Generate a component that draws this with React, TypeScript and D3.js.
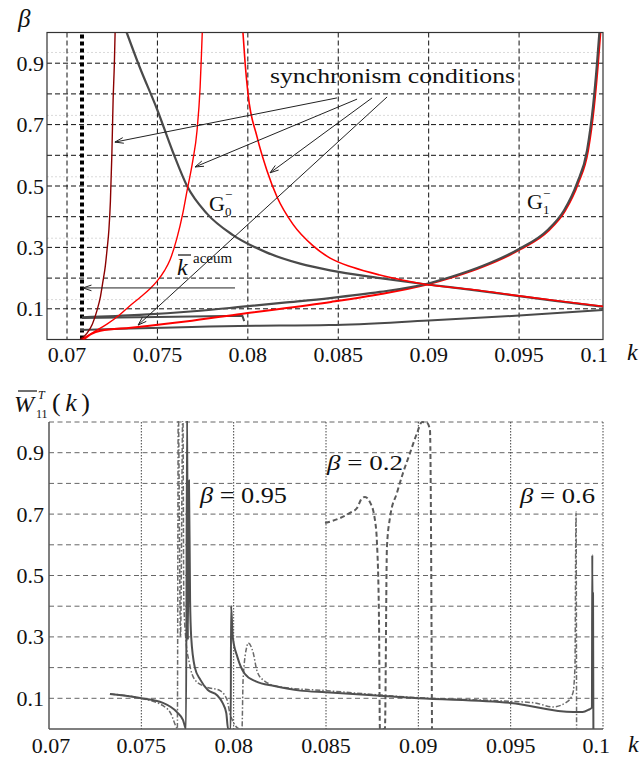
import React from 'react';
import * as d3 from 'd3';

type Pt = [number, number];

// ---- shared axis values ----
const kTicks = [0.07, 0.075, 0.08, 0.085, 0.09, 0.095, 0.1];
const kTickLabels = ['0.07', '0.075', '0.08', '0.085', '0.09', '0.095', '0.1'];
const gridLevels = [0.1, 0.2, 0.3, 0.4, 0.5, 0.6, 0.7, 0.8, 0.9];
const valueTicks = [0.1, 0.3, 0.5, 0.7, 0.9];
const valueTickLabels = ['0.1', '0.3', '0.5', '0.7', '0.9'];
const faintLevels = [0.935, 0.73, 0.53, 0.33, 0.13];

// ---- upper panel: beta(k) ----
const syncDarkRed: Pt[] = [
  [0.07072, 0], [0.0711, 0.02], [0.0714, 0.05], [0.07166, 0.095], [0.07185, 0.14],
  [0.07199, 0.19], [0.07212, 0.24], [0.07221, 0.29], [0.07232, 0.36], [0.0724, 0.45],
  [0.07248, 0.6], [0.07255, 0.78], [0.07262, 0.9], [0.07266, 1.0],
];
const syncRedRise: Pt[] = [
  [0.0708, 0], [0.0715, 0.025], [0.07221, 0.05], [0.0729, 0.08], [0.07348, 0.11],
  [0.0741, 0.14], [0.07459, 0.165], [0.07498, 0.19], [0.0754, 0.225], [0.0757, 0.26],
  [0.07608, 0.33], [0.0764, 0.41], [0.07664, 0.485], [0.07695, 0.58], [0.07719, 0.68],
  [0.07736, 0.82], [0.07743, 0.92], [0.07748, 1.0],
];
const syncRedFall: Pt[] = [
  [0.07973, 1.0], [0.07985, 0.9], [0.08001, 0.8], [0.08051, 0.66], [0.08106, 0.55],
  [0.08161, 0.465], [0.0825, 0.375], [0.08361, 0.305], [0.08455, 0.265], [0.0858, 0.235],
  [0.0873, 0.21], [0.0886, 0.193], [0.0898, 0.18], [0.0925, 0.162], [0.0949, 0.143],
  [0.097, 0.127], [0.09965, 0.108],
];
const g0Curve: Pt[] = [
  [0.0733, 1.0], [0.074, 0.89], [0.07498, 0.75], [0.07586, 0.61], [0.07664, 0.5],
  [0.07774, 0.41], [0.07918, 0.34], [0.08106, 0.283], [0.08289, 0.247], [0.08455, 0.225],
  [0.08731, 0.2], [0.0898, 0.18], [0.0925, 0.161], [0.0949, 0.142], [0.097, 0.126],
  [0.09965, 0.107],
];
const g1Curve: Pt[] = [
  [0.07083, 0.072], [0.074, 0.08], [0.077, 0.092], [0.07957, 0.106], [0.082, 0.12],
  [0.08455, 0.135], [0.0873, 0.155], [0.0898, 0.18], [0.0913, 0.205], [0.093, 0.24],
  [0.095, 0.295], [0.09655, 0.355], [0.09748, 0.42], [0.09821, 0.51], [0.09876, 0.617],
  [0.09909, 0.76], [0.09931, 0.9], [0.09944, 1.0],
];
const g1RedCurve: Pt[] = [
  [0.07083, 0], [0.0713, 0.02], [0.0718, 0.03], [0.07348, 0.04], [0.0765, 0.06],
  [0.07957, 0.085], [0.08455, 0.124], [0.0873, 0.15], [0.0898, 0.18], [0.0913, 0.205],
  [0.093, 0.24], [0.095, 0.295], [0.09655, 0.355], [0.09748, 0.42], [0.09821, 0.51],
  [0.09876, 0.617], [0.09909, 0.76], [0.09931, 0.9], [0.09944, 1.0],
];
const lowerBranch: Pt[] = [
  [0.07072, 0.031], [0.0795, 0.044], [0.0845, 0.047], [0.09, 0.062], [0.095, 0.078],
  [0.09965, 0.096],
];
const flatBranch: Pt[] = [
  [0.07083, 0.07], [0.076, 0.074], [0.0797, 0.077], [0.0798, 0.06],
];
const kAccum = 0.07083;

const syncArrows: [Pt, Pt][] = [
  [[0.08493, 0.787], [0.07265, 0.643]],
  [[0.08604, 0.783], [0.07708, 0.562]],
  [[0.08687, 0.787], [0.08123, 0.543]],
  [[0.0877, 0.79], [0.07393, 0.047]],
];
const accumArrow: [Pt, Pt] = [[0.07929, 0.168], [0.07088, 0.168]];

// ---- lower panel: W11(k) ----
const wBeta095: Pt[] = [
  [0.0733, 0.114], [0.07493, 0.101], [0.07617, 0.085], [0.07693, 0.055], [0.07726, 0.029],
  [0.07742, 0], [0.07748, 1.05], [0.07752, 0.29], [0.07758, 0.81], [0.07764, 0.42],
  [0.0777, 0.3], [0.0779, 0.2], [0.0782, 0.16], [0.0786, 0.127], [0.0791, 0.11],
  [0.0794, 0.085], [0.0796, 0.052], [0.0797, 0], [0.07984, 0], [0.07986, 0.4],
  [0.07995, 0.3], [0.0802, 0.235], [0.0806, 0.18], [0.0812, 0.155], [0.0822, 0.14],
  [0.0836, 0.125], [0.085, 0.12], [0.09, 0.1], [0.095, 0.085], [0.0984, 0.055],
  [0.0989, 0.055], [0.0992, 0.062], [0.0994, 0.07], [0.09942, 0.567], [0.09944, 0.2],
  [0.09946, 0.443], [0.09948, 0],
];
const wBeta06: Pt[] = [
  [0.0733, 0.114], [0.0749, 0.101], [0.0762, 0.075], [0.0766, 0.05], [0.0769, 0.005],
  [0.07695, 0], [0.077, 1.05], [0.07712, 0.3], [0.07725, 1.05], [0.0773, 0.42],
  [0.0774, 0.3], [0.0776, 0.215], [0.0779, 0.16], [0.0785, 0.137], [0.0792, 0.127],
  [0.07964, 0.095], [0.0798, 0.05], [0.08034, 0], [0.08045, 0], [0.08051, 0.16],
  [0.08072, 0.27], [0.08078, 0.28], [0.08105, 0.25], [0.08126, 0.19], [0.08159, 0.16],
  [0.08251, 0.137], [0.085, 0.125], [0.09, 0.102], [0.095, 0.09], [0.0963, 0.085],
  [0.09729, 0.072], [0.09805, 0.088], [0.09837, 0.117], [0.09848, 0.2], [0.09854, 0.707],
  [0.09857, 0],
];
const wBeta02: Pt[] = [
  [0.08495, 0.671], [0.08576, 0.687], [0.0863, 0.704], [0.08668, 0.72], [0.08695, 0.752],
  [0.08711, 0.756], [0.08738, 0.739], [0.08765, 0.681], [0.08776, 0.606], [0.08787, 0.355],
  [0.08792, 0], [0.08819, 0], [0.0883, 0.593], [0.08847, 0.69], [0.08884, 0.769],
  [0.08917, 0.834], [0.08955, 0.899], [0.08993, 0.964], [0.0902, 1.0], [0.09047, 0.997],
  [0.09063, 0.974], [0.09074, 0],
];

const FONT = "'Liberation Serif', 'Times New Roman', Times, serif";

// upper panel frame
const T = { left: 47, right: 603, top: 32.5, bottom: 339.5 };
const xT = d3.scaleLinear().domain([0.07, 0.1]).range([67, 609.5]);
const yT = d3.scaleLinear().domain([0, 1]).range([T.bottom, T.top]);
// lower panel frame
const B = { left: 49, right: 603, top: 422, bottom: 729 };
const xB = d3.scaleLinear().domain([0.07, 0.1]).range([B.left, B.right]);
const yB = d3.scaleLinear().domain([0, 1]).range([B.bottom, B.top]);

const lineT = d3.line<Pt>().x(d => xT(d[0])).y(d => yT(d[1])).curve(d3.curveMonotoneX);
const lineTStraight = d3.line<Pt>().x(d => xT(d[0])).y(d => yT(d[1]));
const lineB = d3.line<Pt>().x(d => xB(d[0])).y(d => yB(d[1])).curve(d3.curveMonotoneX);

function arrowPath(a: Pt, b: Pt): string {
  const x1 = xT(a[0]), y1 = yT(a[1]), x2 = xT(b[0]), y2 = yT(b[1]);
  const ang = Math.atan2(y2 - y1, x2 - x1);
  const L = 9, spread = 0.32;
  const h1x = x2 - L * Math.cos(ang - spread), h1y = y2 - L * Math.sin(ang - spread);
  const h2x = x2 - L * Math.cos(ang + spread), h2y = y2 - L * Math.sin(ang + spread);
  return `M${x1},${y1}L${x2},${y2}M${h1x},${h1y}L${x2},${y2}L${h2x},${h2y}`;
}

export default function App() {
  const lastIdx = kTicks.length - 1;
  return (
    <svg
      width={643}
      height={760}
      viewBox="0 0 643 760"
      style={{ position: 'absolute', left: 0, top: 0, background: '#fff', fontFamily: FONT }}
    >
      <defs>
        <clipPath id="clipTop">
          <rect x={T.left} y={T.top} width={T.right - T.left} height={T.bottom - T.top} />
        </clipPath>
        <clipPath id="clipBottom">
          <rect x={B.left} y={B.top - 1} width={B.right - B.left} height={B.bottom - B.top + 1} />
        </clipPath>
      </defs>
      <rect x={0} y={0} width={643} height={760} fill="#fff" />

      {/* ===== upper panel ===== */}
      <g>
        {faintLevels.map(v => (
          <line key={'f' + v} x1={T.left} x2={T.right} y1={yT(v)} y2={yT(v)}
            stroke="#dadada" strokeWidth={1} strokeDasharray="2,2" />
        ))}
        {gridLevels.map(v => (
          <line key={'h' + v} x1={T.left} x2={T.right} y1={yT(v)} y2={yT(v)}
            stroke="#111" strokeWidth={1} strokeDasharray="5,3" />
        ))}
        {kTicks.slice(0, lastIdx).map(k => (
          <line key={'v' + k} x1={xT(k)} x2={xT(k)} y1={T.top} y2={T.bottom}
            stroke="#111" strokeWidth={1} strokeDasharray="5,3" />
        ))}
        <rect x={T.left} y={T.top} width={T.right - T.left} height={T.bottom - T.top}
          fill="none" stroke="#333" strokeWidth={1.2} />

        <g clipPath="url(#clipTop)" fill="none" strokeLinejoin="round">
          <line x1={xT(kAccum)} x2={xT(kAccum)} y1={T.bottom} y2={T.top}
            stroke="#000" strokeWidth={4} strokeDasharray="4,3" />
          <path d={lineT(lowerBranch) || ''} stroke="#4a4a4a" strokeWidth={2} />
          <path d={lineTStraight(flatBranch) || ''} stroke="#4a4a4a" strokeWidth={2} />
          <path d={lineT(g0Curve) || ''} stroke="#4a4a4a" strokeWidth={2.2} />
          <path d={lineT(g1RedCurve) || ''} stroke="#ff0000" strokeWidth={2}
            transform="translate(1,0.5)" />
          <path d={lineT(g1Curve) || ''} stroke="#4a4a4a" strokeWidth={2.2} />
          <path d={lineT(syncRedFall) || ''} stroke="#ff0000" strokeWidth={1.6} />
          <path d={lineT(syncRedRise) || ''} stroke="#ff0000" strokeWidth={1.4} />
          <path d={lineT(syncDarkRed) || ''} stroke="#8b0000" strokeWidth={1.4} />
        </g>

        {syncArrows.map((a, i) => (
          <path key={'a' + i} d={arrowPath(a[0], a[1])} fill="none" stroke="#222" strokeWidth={1} />
        ))}
        <path d={arrowPath(accumArrow[0], accumArrow[1])} fill="none" stroke="#222" strokeWidth={1} />

        <text x={270} y={83} fontSize={22} textLength={245} lengthAdjust="spacingAndGlyphs" fill="#111">
          synchronism conditions
        </text>
        {/* G0- */}
        <text x={209} y={211} fontSize={22} fill="#111">G</text>
        <text x={225} y={216} fontSize={13} fill="#111">0</text>
        <text x={225} y={199} fontSize={13} fill="#111">−</text>
        {/* G1- */}
        <text x={527} y={209} fontSize={22} fill="#111">G</text>
        <text x={543} y={214} fontSize={13} fill="#111">1</text>
        <text x={543} y={198} fontSize={13} fill="#111">−</text>
        {/* k accum */}
        <text x={177} y={275} fontSize={24} fontStyle="italic" fill="#111">k</text>
        <line x1={178} x2={191} y1={255} y2={255} stroke="#111" strokeWidth={1.2} />
        <text x={193} y={263} fontSize={15} fill="#111">aceum</text>

        {/* axes labels */}
        {valueTicks.map((v, i) => (
          <text key={'yl' + v} x={44} y={yT(v) + 7.5} fontSize={22} textAnchor="end" fill="#111">
            {valueTickLabels[i]}
          </text>
        ))}
        {kTicks.map((k, i) => (
          <text key={'xl' + k} x={i === lastIdx ? T.right + 5 : xT(k)} y={362} fontSize={22}
            textAnchor={i === lastIdx ? 'end' : 'middle'} fill="#111">
            {kTickLabels[i]}
          </text>
        ))}
        <text x={18} y={27} fontSize={25} fontStyle="italic" fill="#111">β</text>
        <text x={627} y={360} fontSize={24} fontStyle="italic" fill="#111">k</text>
      </g>

      {/* ===== lower panel ===== */}
      <g>
        {gridLevels.map(v => (
          <line key={'bh' + v} x1={B.left} x2={B.right} y1={yB(v)} y2={yB(v)}
            stroke="#666" strokeWidth={1} strokeDasharray="5,3.5" />
        ))}
        <line x1={B.left} x2={B.right} y1={B.top} y2={B.top}
          stroke="#666" strokeWidth={1} strokeDasharray="5,3.5" />
        {kTicks.slice(1).map(k => (
          <line key={'bv' + k} x1={xB(k)} x2={xB(k)} y1={B.top} y2={B.bottom}
            stroke="#444" strokeWidth={1} strokeDasharray="1.5,1.5" />
        ))}
        <line x1={B.left} x2={B.left} y1={B.top} y2={B.bottom} stroke="#555" strokeWidth={1.5} />
        <line x1={B.left} x2={B.right} y1={B.bottom} y2={B.bottom} stroke="#555" strokeWidth={1.5} />

        <g clipPath="url(#clipBottom)" fill="none" strokeLinejoin="round">
          <path d={lineB(wBeta02) || ''} stroke="#5a5a5a" strokeWidth={2} strokeDasharray="5,3" />
          <path d={lineB(wBeta06) || ''} stroke="#6a6a6a" strokeWidth={1.5}
            strokeDasharray="5,2,1.5,2" />
          <path d={lineB(wBeta095) || ''} stroke="#505050" strokeWidth={2} />
        </g>

        <text x={200} y={503} fontSize={24} textLength={87} lengthAdjust="spacingAndGlyphs" fill="#111">
          <tspan fontStyle="italic">β</tspan> = 0.95
        </text>
        <text x={327} y={470} fontSize={22} textLength={76} lengthAdjust="spacingAndGlyphs" fill="#111">
          <tspan fontStyle="italic">β</tspan> = 0.2
        </text>
        <text x={520} y={503} fontSize={22} textLength={75} lengthAdjust="spacingAndGlyphs" fill="#111">
          <tspan fontStyle="italic">β</tspan> = 0.6
        </text>

        {valueTicks.map((v, i) => (
          <text key={'byl' + v} x={44} y={yB(v) + 7.5} fontSize={22} textAnchor="end" fill="#111">
            {valueTickLabels[i]}
          </text>
        ))}
        {kTicks.map((k, i) => (
          <text key={'bxl' + k} x={i === lastIdx ? B.right + 7 : i === 0 ? xB(k) + 2 : xB(k)} y={753}
            fontSize={22} textAnchor={i === lastIdx ? 'end' : 'middle'} fill="#111">
            {kTickLabels[i]}
          </text>
        ))}
        <text x={628} y={752} fontSize={24} fontStyle="italic" fill="#111">k</text>

        {/* W11^T(k) title */}
        <text x={14} y={412} fontSize={24} fontStyle="italic" fill="#111">W</text>
        <line x1={18} x2={37} y1={391} y2={391} stroke="#111" strokeWidth={1.2} />
        <text x={38} y={399} fontSize={12} fontStyle="italic" fill="#111">T</text>
        <text x={36} y={418} fontSize={12} fill="#111">11</text>
        <text x={52} y={411} fontSize={26} textLength={38} lengthAdjust="spacing" fill="#111">
          (<tspan fontStyle="italic">k</tspan>)
        </text>
      </g>
    </svg>
  );
}
